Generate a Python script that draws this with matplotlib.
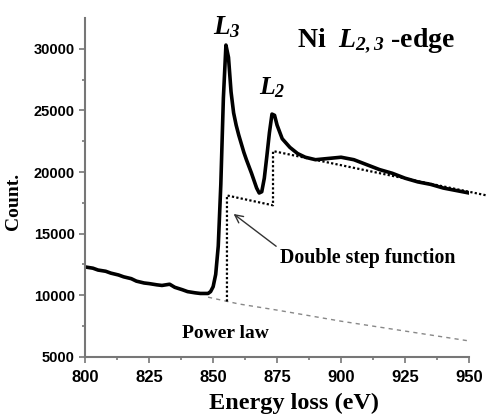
import matplotlib.pyplot as plt
import numpy as np

plt.rcParams['mathtext.fontset'] = 'custom'
plt.rcParams['mathtext.rm'] = 'Liberation Serif:bold'
plt.rcParams['mathtext.it'] = 'Liberation Serif:bold:italic'
plt.rcParams['mathtext.bf'] = 'Liberation Serif:bold:italic'

# measured spectrum (eV, counts)
energy = [800, 803, 805, 808, 810, 813, 815, 818, 820, 823, 825, 828, 830, 833,
          835, 838, 840, 843, 845, 848, 849, 850, 851, 852, 853, 854, 855, 856,
          857, 858, 859, 860, 862, 863, 865, 867, 868, 869, 870, 871, 872, 873,
          874, 875, 877, 880, 883, 886, 890, 895, 900, 905, 910, 915, 920, 925,
          930, 935, 940, 945, 950]
counts = [12300, 12200, 12050, 11950, 11800, 11650, 11500, 11350, 11150, 11000,
          10950, 10850, 10800, 10900, 10650, 10450, 10300, 10200, 10150, 10150,
          10300, 10700, 11700, 14000, 19000, 26000, 30300, 29300, 26500, 24800,
          23800, 23000, 21600, 21000, 19900, 18700, 18300, 18400, 19500, 21300,
          23200, 24700, 24600, 23800, 22700, 22000, 21500, 21200, 21000, 21100,
          21200, 21000, 20600, 20200, 19900, 19500, 19200, 19000, 18700, 18500,
          18300]

# double step function
step_e = [855.4, 855.4, 873.4, 873.4, 957]
step_c = [9500, 18100, 17300, 21700, 18100]

# power law background
pl_e = [848, 860, 875, 900, 925, 950]
pl_c = [9850, 9300, 8800, 7900, 7100, 6300]

fig = plt.figure(figsize=(4.87, 4.17), dpi=100)
ax = fig.add_axes([0.175, 0.144, 0.788, 0.813])

ax.plot(pl_e, pl_c, color='#888888', lw=1.0, ls=(0, (3, 3)))
ax.plot(step_e, step_c, color='black', lw=1.6, ls=(0, (1, 1)), clip_on=False)
ax.plot(energy, counts, color='black', lw=2.6)

ax.set_xlim(800, 950)
ax.set_ylim(5000, 32500)
ax.set_xticks([800, 825, 850, 875, 900, 925, 950])
ax.set_yticks([5000, 10000, 15000, 20000, 25000, 30000])
ax.set_xticks(np.arange(812.5, 950, 25), minor=True)
ax.set_yticks(np.arange(7500, 32500, 5000), minor=True)

for s in ['top', 'right']:
    ax.spines[s].set_visible(False)
for s in ['left', 'bottom']:
    ax.spines[s].set_color('#777777')
    ax.spines[s].set_linewidth(1.5)
ax.tick_params(which='both', color='#777777', width=1.2)
ax.tick_params(which='major', length=4.5)
ax.tick_params(which='minor', length=2.5)
ax.tick_params(axis='x', labelsize=12, pad=5)
ax.tick_params(axis='y', labelsize=10.5, pad=3)
for lab in ax.get_xticklabels() + ax.get_yticklabels():
    lab.set_fontweight('bold')
    lab.set_family('Liberation Sans')

ax.set_xlabel('Energy loss (eV)', family='Liberation Serif', fontweight='bold',
              fontsize=17.5)
ax.xaxis.set_label_coords(0.544, -0.105)
ax.set_ylabel('Count.', family='Liberation Serif', fontweight='bold',
              fontsize=14)
ax.yaxis.set_label_coords(-0.166, 0.46)

ax.text(0.553, 0.915, r'Ni  $L_{\mathbf{2,3}}$ -edge', transform=ax.transAxes,
        family='Liberation Serif', fontweight='bold', fontsize=20)
ax.text(855.5, 31200, r'$L_{\mathbf{3}}$', fontsize=19.5, ha='center')
ax.text(873, 26300, r'$L_{\mathbf{2}}$', fontsize=18.5, ha='center')

ax.annotate('Double step function', xy=(858, 16600), xytext=(876, 12600),
            family='Liberation Serif', fontweight='bold', fontsize=14.3,
            arrowprops=dict(arrowstyle='->', color='#333333', lw=1.0,
                            shrinkA=0, shrinkB=0,
                            relpos=(-0.02, 1.1)))
ax.text(838, 6550, 'Power law', family='Liberation Serif', fontweight='bold',
        fontsize=14)

fig.savefig('out.png', dpi=100)
